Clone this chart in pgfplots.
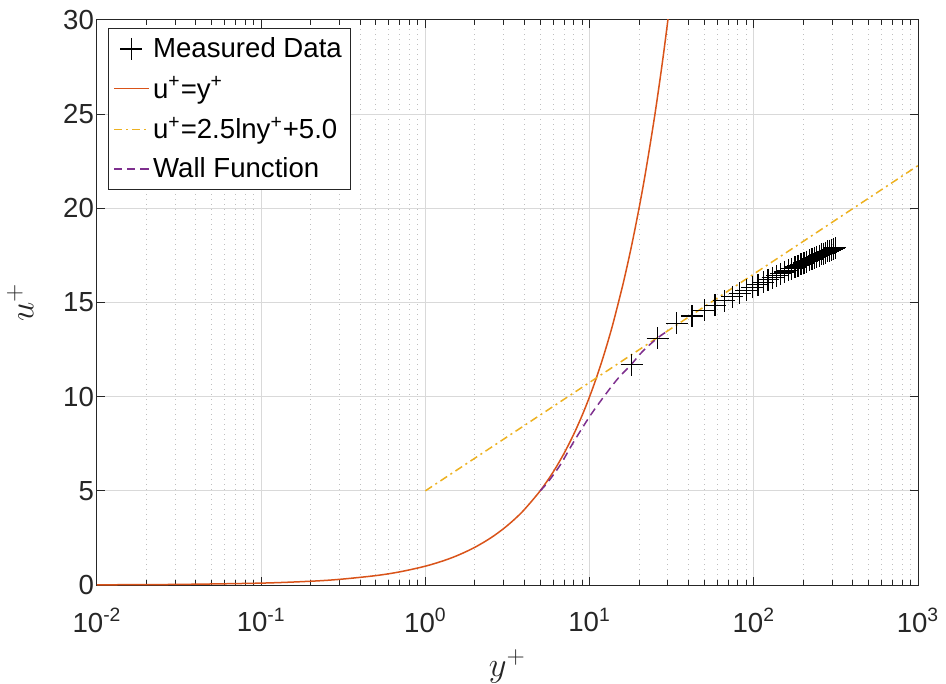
\documentclass[border=0pt]{standalone}
\usepackage{pgfplots}
\pgfplotsset{compat=1.18}
\usepackage{fontspec}
\setmainfont{Liberation Sans}
\definecolor{morange}{rgb}{0.85,0.325,0.098}
\definecolor{myellow}{rgb}{0.929,0.694,0.125}
\definecolor{mpurple}{rgb}{0.494,0.184,0.556}
\definecolor{axgray}{rgb}{0.15,0.15,0.15}
\begin{document}
\begin{tikzpicture}
\useasboundingbox (-48.5pt,-49.5pt) rectangle (424.5pt,292.5pt);
\begin{axis}[
  at={(0pt,0pt)}, anchor=south west,
  scale only axis, width=410.5pt, height=282.5pt,
  xmode=log, log basis x=10,
  xmin=0.01, xmax=1000, ymin=0, ymax=30,
  xtick={0.01,0.1,1,10,100,1000},
  minor xtick={0.02,0.03,0.04,0.05,0.06,0.07,0.08,0.09,
               0.2,0.3,0.4,0.5,0.6,0.7,0.8,0.9,
               2,3,4,5,6,7,8,9,
               20,30,40,50,60,70,80,90,
               200,300,400,500,600,700,800,900},
  xticklabels={10\textsuperscript{-2},10\textsuperscript{-1},10\textsuperscript{0},10\textsuperscript{1},10\textsuperscript{2},10\textsuperscript{3}},
  ytick={0,5,10,15,20,25,30},
  yticklabels={0,5,10,15,20,25,30},
  /pgf/number format/assume math mode=true,
  tick label style={font=\fontsize{13.8}{16}\selectfont, text=axgray},
  xticklabel style={yshift=-8pt},
  yticklabel style={xshift=2pt},
  axis line style={axgray, line width=0.5pt},
  major tick style={axgray, line width=0.5pt},
  minor tick style={axgray, line width=0.5pt},
  major tick length=4pt, minor tick length=2.5pt,
  tick align=inside,
  minor y tick num=0,
  xmajorgrids, ymajorgrids, xminorgrids,
  major grid style={black!15, line width=0.5pt},
  minor grid style={black!25, line width=0.5pt, dotted},
  xlabel={$y^+$},
  ylabel={$u^+$},
  label style={font=\fontsize{17}{20}\selectfont, text=axgray},
  xlabel style={yshift=-2pt},
  ylabel style={yshift=8pt},
  legend cell align=left,
  legend style={at={(0.0134,0.986)}, anchor=north west, draw=black!85, line width=0.5pt, fill=white,
    font=\fontsize{13.8}{16}\selectfont, row sep=4pt, inner sep=2.5pt},
]
\addplot[only marks, mark=+, mark size=5.5pt, black, line width=0.6pt] coordinates {
(18,11.7)(26,13.1)(34,13.90)(42,14.28)(50,14.59)(58,14.86)(66,15.09)(74,15.30)
(82,15.48)(90,15.65)(98,15.80)(106,15.94)(114,16.08)(122,16.20)(130,16.31)(138,16.42)
(146,16.52)(154,16.62)(162,16.71)(170,16.79)(178,16.88)(186,16.96)(194,17.03)(202,17.10)
(210,17.17)(218,17.24)(226,17.31)(234,17.37)(242,17.43)(250,17.49)(258,17.55)(266,17.60)
(274,17.65)(282,17.71)(290,17.76)(298,17.80)(306,17.85)(314,17.90)};
\addlegendentry{Measured Data}
\addplot[color=morange, line width=0.75pt, smooth] coordinates {
(0.01,0.01)(0.03,0.03)(0.1,0.1)(0.2,0.2)(0.3,0.3)(0.5,0.5)(0.7,0.7)(1,1)(1.3,1.3)(1.6,1.6)
(2,2)(2.5,2.5)(3,3)(3.5,3.5)(4,4)(5,5)(6,6)(7,7)(8,8)(9,9)(10,10)(11,11)(12,12)(13,13)(14,14)
(16,16)(18,18)(20,20)(22,22)(25,25)(28,28)(31,31)};
\addlegendentry{u\textsuperscript{+}=y\textsuperscript{+}}
\addplot[color=myellow, line width=0.75pt, dash pattern=on 4pt off 2pt on 1pt off 2pt] coordinates {(1,5)(1000,22.27)};
\addlegendentry{u\textsuperscript{+}=2.5lny\textsuperscript{+}+5.0}
\addplot[color=mpurple, line width=0.75pt, dash pattern=on 4pt off 2.5pt, smooth] coordinates {
(5.0,5.0)(5.5,5.4)(6.6,6.35)(8,7.6)(10.1,9.0)(12.7,10.2)(15,11.0)(17.9,11.7)(21,12.4)(25.8,13.1)(30,13.5)};
\addlegendentry{Wall Function}
\end{axis}
\end{tikzpicture}
\end{document}
